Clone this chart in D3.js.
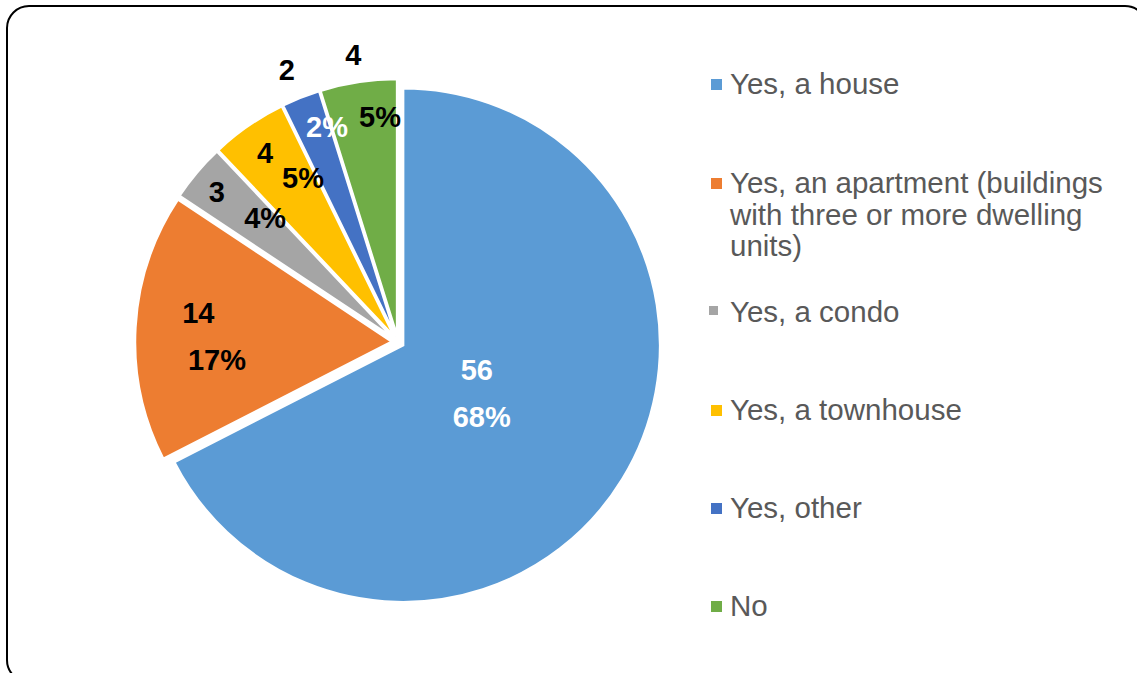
<!DOCTYPE html>
<html>
<head>
<meta charset="utf-8">
<script src="https://cdn.jsdelivr.net/npm/d3@7"></script>
<style>
  html, body { margin: 0; padding: 0; background: #fff; }
  svg { display: block; }
</style>
</head>
<body>
<svg id="chart" width="1137" height="673"></svg>
<script>
// ---- data ----
const categories = [
  "Yes, a house",
  "Yes, an apartment (buildings with three or more dwelling units)",
  "Yes, a condo",
  "Yes, a townhouse",
  "Yes, other",
  "No"
];
const counts = [56, 14, 3, 4, 2, 4];
const percentLabels = ["68%", "17%", "4%", "5%", "2%", "5%"];
const colors = ["#5B9BD5", "#ED7D31", "#A5A5A5", "#FFC000", "#4472C4", "#70AD47"];
// legend text wrapped as in the reference
const legendLines = [
  ["Yes, a house"],
  ["Yes, an apartment (buildings", "with three or more dwelling", "units)"],
  ["Yes, a condo"],
  ["Yes, a townhouse"],
  ["Yes, other"],
  ["No"]
];

// ---- layout ----
const W = 1137, H = 673;
const cx = 398, cy = 342, R = 257, explode = 6;
// label placement: [angle offset from bisector (deg), radius fraction]
const valuePos = [[-12, 0.325], [5, 0.785], [-0.5, 0.915], [-0.4, 0.9], [-0.5, 1.145], [-0.2, 1.13]];
const pctPos   = [[10.5, 0.438], [-9, 0.708], [3, 0.708], [4.6, 0.737], [3.4, 0.88], [4.1, 0.88]];
const valueFill = ["#fff", "#000", "#000", "#000", "#000", "#000"];
const pctFill   = ["#fff", "#000", "#000", "#000", "#fff", "#000"];
const legendBase = [94, 193, 322, 420, 518, 616];
const legendLineH = 31.5;

const svg = d3.select("#chart");

svg.append("rect")
  .attr("x", 7).attr("y", 6)
  .attr("width", 1140).attr("height", 676)
  .attr("rx", 22).attr("ry", 22)
  .attr("fill", "none").attr("stroke", "#000").attr("stroke-width", 2);

const pie = d3.pie().sort(null).value(d => d)(counts);
const arc = d3.arc().innerRadius(0).outerRadius(R);

const g = svg.append("g").attr("transform", `translate(${cx},${cy})`);

const slices = g.selectAll("g.slice").data(pie).join("g")
  .attr("class", "slice")
  .attr("transform", d => {
    const a = (d.startAngle + d.endAngle) / 2;
    return `translate(${Math.sin(a) * explode},${-Math.cos(a) * explode})`;
  });

slices.append("path")
  .attr("d", arc)
  .attr("fill", (d, i) => colors[i])
  .attr("stroke", "#fff")
  .attr("stroke-width", 2.5)
  .attr("stroke-linejoin", "miter");

function polar(d, pos) {
  const a = (d.startAngle + d.endAngle) / 2 + pos[0] * Math.PI / 180;
  const rr = pos[1] * R;
  return [Math.sin(a) * rr, -Math.cos(a) * rr];
}

const labelFont = "'Liberation Sans', Arial, sans-serif";
g.selectAll("text.val").data(pie).join("text")
  .attr("class", "val")
  .attr("x", (d, i) => polar(d, valuePos[i])[0])
  .attr("y", (d, i) => polar(d, valuePos[i])[1])
  .attr("text-anchor", "middle")
  .attr("dominant-baseline", "central")
  .attr("font-family", labelFont)
  .attr("font-weight", "bold")
  .attr("font-size", 29)
  .attr("fill", (d, i) => valueFill[i])
  .text((d, i) => counts[i]);

g.selectAll("text.pct").data(pie).join("text")
  .attr("class", "pct")
  .attr("x", (d, i) => polar(d, pctPos[i])[0])
  .attr("y", (d, i) => polar(d, pctPos[i])[1])
  .attr("text-anchor", "middle")
  .attr("dominant-baseline", "central")
  .attr("font-family", labelFont)
  .attr("font-weight", "bold")
  .attr("font-size", 29)
  .attr("fill", (d, i) => pctFill[i])
  .text((d, i) => percentLabels[i]);

// ---- legend ----
const leg = svg.append("g");
const items = leg.selectAll("g.item").data(categories).join("g").attr("class", "item");
items.append("rect")
  .attr("x", (d, i) => i === 2 ? 709 : 711)
  .attr("y", (d, i) => legendBase[i] - (i === 2 ? 16 : 15))
  .attr("width", (d, i) => i === 2 ? 9 : 11)
  .attr("height", (d, i) => i === 2 ? 9 : 11)
  .attr("fill", (d, i) => colors[i]);
items.append("text")
  .attr("x", 730)
  .attr("y", (d, i) => legendBase[i])
  .attr("font-family", labelFont)
  .attr("font-size", 29.5)
  .attr("fill", "#595959")
  .selectAll("tspan").data((d, i) => legendLines[i]).join("tspan")
  .attr("x", 730)
  .attr("dy", (d, j) => j === 0 ? 0 : legendLineH)
  .text(d => d);
</script>
</body>
</html>
